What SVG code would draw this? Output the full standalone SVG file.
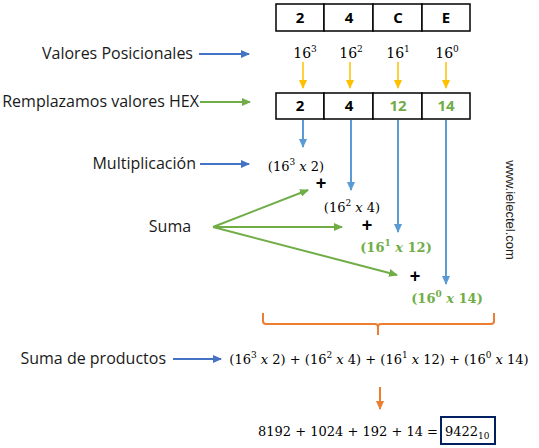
<svg xmlns="http://www.w3.org/2000/svg" width="539" height="448" viewBox="0 0 539 448">
<style>
.lbl{font-family:"Open Sans","Liberation Sans",sans-serif;font-size:16px;fill:#1a1a1a}
.cell{fill:#fff;stroke:#000;stroke-width:1.5}
.dig{font-family:"Open Sans","Liberation Sans",sans-serif;font-size:15px;font-weight:bold;text-anchor:middle;fill:#000}
.g{fill:#70AD47}
.m{font-family:"DejaVu Serif","Liberation Serif",serif;font-size:13px;fill:#000}
.mg{font-family:"DejaVu Serif","Liberation Serif",serif;font-size:13px;font-weight:bold;fill:#70AD47}
.pw{font-family:"DejaVu Serif","Liberation Serif",serif;font-size:14px;fill:#000;text-anchor:middle}
.plus{font-family:"Liberation Sans",sans-serif;font-size:18px;font-weight:bold;text-anchor:middle;fill:#000}
.sup{font-size:9px}
.a-b{stroke:#4472C4;stroke-width:2;fill:none}
.a-lb{stroke:#5B9BD5;stroke-width:2;fill:none}
.a-g{stroke:#70AD47;stroke-width:2;fill:none}
.a-y{stroke:#FFC000;stroke-width:1.5;fill:none}
.a-o{stroke:#ED7D31;stroke-width:2;fill:none}
</style>
<defs>
<marker id="hb" markerWidth="9" markerHeight="8" refX="8" refY="4" orient="auto" markerUnits="userSpaceOnUse"><path d="M0,0 L9,4 L0,8 Z" fill="#4472C4"/></marker>
<marker id="hlb" markerWidth="9" markerHeight="8" refX="8" refY="4" orient="auto" markerUnits="userSpaceOnUse"><path d="M0,0 L9,4 L0,8 Z" fill="#5B9BD5"/></marker>
<marker id="hg" markerWidth="9" markerHeight="8" refX="8" refY="4" orient="auto" markerUnits="userSpaceOnUse"><path d="M0,0 L9,4 L0,8 Z" fill="#70AD47"/></marker>
<marker id="hy" markerWidth="9" markerHeight="8" refX="8" refY="4" orient="auto" markerUnits="userSpaceOnUse"><path d="M0,0 L9,4 L0,8 Z" fill="#FFC000"/></marker>
<marker id="ho" markerWidth="9" markerHeight="8" refX="8" refY="4" orient="auto" markerUnits="userSpaceOnUse"><path d="M0,0 L9,4 L0,8 Z" fill="#ED7D31"/></marker>
</defs>
<rect width="539" height="448" fill="#fff"/>

<g id="hex-box">
<rect class="cell" x="276" y="4" width="48" height="27"/>
<rect class="cell" x="324" y="4" width="49" height="27"/>
<rect class="cell" x="373" y="4" width="49" height="27"/>
<rect class="cell" x="422" y="4" width="48" height="27"/>
<text class="dig" x="300" y="23">2</text>
<text class="dig" x="349" y="23">4</text>
<text class="dig" x="398" y="23">C</text>
<text class="dig" x="446" y="23">E</text>
</g>

<g id="powers">
<text class="pw" x="305" y="58">16<tspan class="sup" dy="-6">3</tspan></text>
<text class="pw" x="351" y="58">16<tspan class="sup" dy="-6">2</tspan></text>
<text class="pw" x="398" y="58">16<tspan class="sup" dy="-6">1</tspan></text>
<text class="pw" x="447" y="58">16<tspan class="sup" dy="-6">0</tspan></text>
</g>

<g id="values-box">
<rect class="cell" x="276" y="93" width="48" height="26"/>
<rect class="cell" x="324" y="93" width="49" height="26"/>
<rect class="cell" x="373" y="93" width="49" height="26"/>
<rect class="cell" x="422" y="93" width="48" height="26"/>
<text class="dig" x="300" y="111">2</text>
<text class="dig" x="349" y="111">4</text>
<text class="dig g" x="398" y="111">12</text>
<text class="dig g" x="446" y="111">14</text>
</g>

<g id="labels">
<text class="lbl" x="193" y="59" text-anchor="end">Valores Posicionales</text>
<text class="lbl" x="199" y="107" text-anchor="end">Remplazamos valores HEX</text>
<text class="lbl" x="196" y="169" text-anchor="end">Multiplicación</text>
<text class="lbl" x="170" y="232" text-anchor="middle">Suma</text>
<text class="lbl" x="166" y="364" text-anchor="end">Suma de productos</text>
</g>

<g id="products">
<text class="m" x="296" y="171" text-anchor="middle">(16<tspan class="sup" dy="-6">3</tspan><tspan dy="6"> </tspan><tspan font-style="italic">x</tspan> 2)</text>
<text class="plus" x="321" y="189">+</text>
<text class="m" x="352" y="212" text-anchor="middle">(16<tspan class="sup" dy="-6">2</tspan><tspan dy="6"> </tspan><tspan font-style="italic">x</tspan> 4)</text>
<text class="plus" x="367" y="231">+</text>
<text class="mg" x="396" y="252" text-anchor="middle">(16<tspan class="sup" dy="-6">1</tspan><tspan dy="6"> </tspan><tspan font-style="italic">x</tspan> 12)</text>
<text class="plus" x="415" y="282">+</text>
<text class="mg" x="447" y="303" text-anchor="middle">(16<tspan class="sup" dy="-6">0</tspan><tspan dy="6"> </tspan><tspan font-style="italic">x</tspan> 14)</text>
</g>

<g id="watermark">
<text font-family="Liberation Sans, Arial, sans-serif" font-size="13" fill="#222" text-anchor="middle" transform="translate(506,210) rotate(90)">www.ielectel.com</text>
</g>

<g id="sum-formula">
<text class="m" x="379" y="364" text-anchor="middle">(16<tspan class="sup" dy="-6">3</tspan><tspan dy="6"> </tspan><tspan font-style="italic">x</tspan> 2) + (16<tspan class="sup" dy="-6">2</tspan><tspan dy="6"> </tspan><tspan font-style="italic">x</tspan> 4) + (16<tspan class="sup" dy="-6">1</tspan><tspan dy="6"> </tspan><tspan font-style="italic">x</tspan> 12) + (16<tspan class="sup" dy="-6">0</tspan><tspan dy="6"> </tspan><tspan font-style="italic">x</tspan> 14)</text>
</g>

<g id="result">
<text class="m" x="438" y="436" text-anchor="end">8192 + 1024 + 192 + 14 =</text>
<rect x="441" y="417" width="54" height="27" fill="none" stroke="#002060" stroke-width="2"/>
<text class="m" x="445" y="436">9422<tspan class="sup" dy="3">10</tspan></text>
</g>

<g id="connectors">
<line class="a-b" x1="199" y1="54" x2="249" y2="54" marker-end="url(#hb)"/>
<line class="a-g" x1="200" y1="102" x2="250" y2="102" marker-end="url(#hg)"/>
<line class="a-b" x1="200" y1="164" x2="249" y2="164" marker-end="url(#hb)"/>
<line class="a-b" x1="173" y1="359" x2="221" y2="359" marker-end="url(#hb)"/>
<line class="a-y" x1="303" y1="62" x2="303" y2="88" marker-end="url(#hy)"/>
<line class="a-y" x1="350" y1="62" x2="350" y2="88" marker-end="url(#hy)"/>
<line class="a-y" x1="398" y1="62" x2="398" y2="88" marker-end="url(#hy)"/>
<line class="a-y" x1="446" y1="62" x2="446" y2="88" marker-end="url(#hy)"/>
<line class="a-lb" x1="303" y1="120" x2="303" y2="147" marker-end="url(#hlb)"/>
<line class="a-lb" x1="351" y1="120" x2="351" y2="190" marker-end="url(#hlb)"/>
<line class="a-lb" x1="398" y1="120" x2="398" y2="232" marker-end="url(#hlb)"/>
<line class="a-lb" x1="446" y1="120" x2="446" y2="284" marker-end="url(#hlb)"/>
<line class="a-g" x1="213" y1="227" x2="308" y2="190" marker-end="url(#hg)"/>
<line class="a-g" x1="213" y1="227" x2="342" y2="227" marker-end="url(#hg)"/>
<line class="a-g" x1="213" y1="227" x2="397" y2="275" marker-end="url(#hg)"/>
<path d="M263,313 V321 Q263,324 266,324 H375 Q378,324 378,327 V335 M378,327 Q378,324 381,324 H491 Q494,324 494,321 V313" fill="none" stroke="#ED7D31" stroke-width="2"/>
<line class="a-o" x1="380" y1="387" x2="380" y2="409" marker-end="url(#ho)"/>
</g>
</svg>
